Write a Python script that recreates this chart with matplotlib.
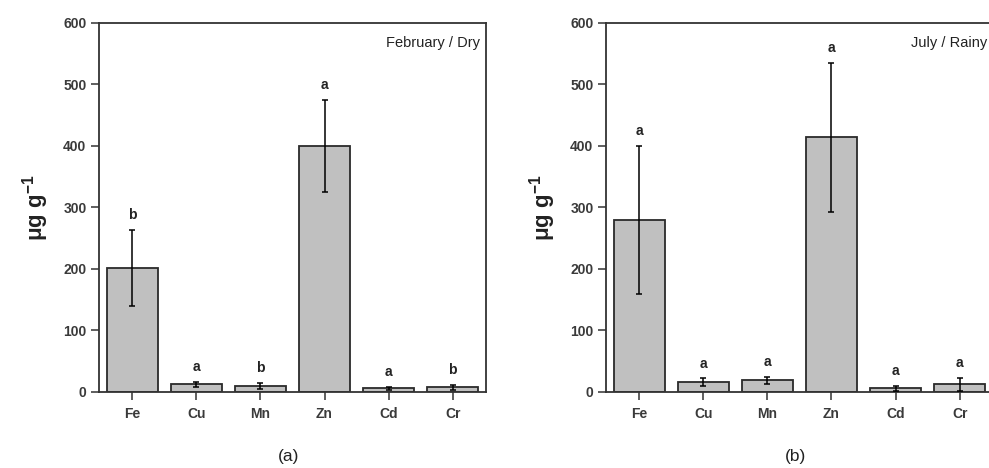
import matplotlib
matplotlib.use("Agg")
import matplotlib.pyplot as plt
import numpy as np

plt.rcParams["font.family"] = ["Liberation Sans", "DejaVu Sans"]
plt.rcParams["mathtext.fontset"] = "custom"
plt.rcParams["mathtext.rm"] = "Liberation Sans:bold"
plt.rcParams["mathtext.bf"] = "Liberation Sans:bold"
plt.rcParams["mathtext.default"] = "bf"

elements = ["Fe", "Cu", "Mn", "Zn", "Cd", "Cr"]

dry_mean = [202, 12.5, 10, 400, 6, 7.5]
dry_err = [62, 4, 5, 75, 2, 4]
dry_letters = ["b", "a", "b", "a", "a", "b"]

rainy_mean = [280, 16, 19, 414, 6, 12.5]
rainy_err = [120, 6, 6, 121, 4, 11]
rainy_letters = ["a", "a", "a", "a", "a", "a"]

panels = [
    ("February / Dry", "(a)", dry_mean, dry_err, dry_letters, 0.1001),
    ("July / Rainy", "(b)", rainy_mean, rainy_err, rainy_letters, 0.6127),
]

fig = plt.figure(figsize=(9.89, 4.68), dpi=100)
x = np.arange(1, len(elements) + 1)

for title, tag, mean, err, letters, left in panels:
    ax = fig.add_axes([left, 0.1624, 0.3913, 0.7885])
    ax.bar(x, mean, width=0.8, color="#c0c0c0", edgecolor="#2a2a2a", linewidth=1.3, zorder=2)
    ax.errorbar(x, mean, yerr=err, fmt="none", ecolor="black", elinewidth=1.1,
                capsize=2.5, capthick=1.1, zorder=3)
    for xi, m, e, lab in zip(x, mean, err, letters):
        ax.annotate(lab, xy=(xi, m + e), xytext=(0, 10.5), textcoords="offset points",
                    ha="center", va="center", fontsize=10, fontweight="bold", color="#222")
    ax.set_xlim(0.48, 6.52)
    ax.set_ylim(0, 600)
    ax.set_yticks(range(0, 601, 100))
    ax.set_xticks(x)
    ax.set_xticklabels(elements)
    ax.tick_params(axis="both", direction="out", length=5.5, width=1.1, labelsize=10,
                   colors="#333", labelcolor="#3a3a3a")
    ax.tick_params(axis="x", pad=5)
    for lbl in ax.get_xticklabels() + ax.get_yticklabels():
        lbl.set_fontweight("bold")
    for s in ax.spines.values():
        s.set_linewidth(1.3)
        s.set_color("#333")
    ax.set_ylabel(r"μg g$^{-1}$", fontsize=16, fontweight="bold", labelpad=9, color="#222")
    ax.text(0.985, 0.965, title, transform=ax.transAxes, ha="right", va="top",
            fontsize=10.5, color="#222")
    ax.text(0.49, -0.155, tag, transform=ax.transAxes, ha="center", va="top",
            fontsize=12.5, color="#222")

fig.savefig("out.png", dpi=100)
